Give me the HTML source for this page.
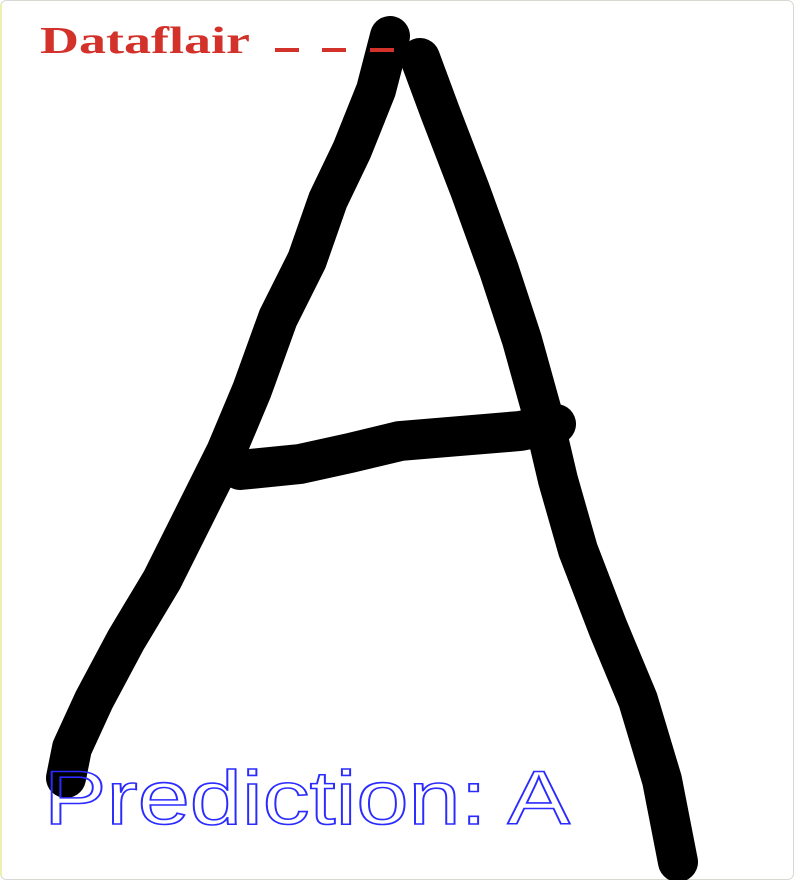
<!DOCTYPE html>
<html><head><meta charset="utf-8"><style>
html,body{margin:0;padding:0;background:#fff;}
svg{display:block;}
</style></head><body>
<svg width="794" height="880" viewBox="0 0 794 880">
<rect x="0.5" y="0.5" width="793" height="879" rx="6" fill="#fff" stroke="#d8d8d0"/>
<line x1="1" y1="4" x2="1" y2="876" stroke="#eef0b0" stroke-width="2"/>
<g fill="none" stroke="#000" stroke-width="40" stroke-linecap="round" stroke-linejoin="round">
<polyline points="390,36 376,90 352,150 328,200 307,260 278,318 252,390 226,452 196,512 162,580 126,640 94,700 72,748 66,778"/>
<polyline points="420,58 440,112 470,190 499,270 522,340 542,412 558,480 578,550 608,628 638,700 662,780 678,862"/>
<polyline points="240,470 300,464 350,453 400,441 460,436 520,431 556,424"/>
</g>
<text x="40" y="53" font-family="'Liberation Serif',serif" font-weight="bold" font-size="38" fill="#d2322a" textLength="210" lengthAdjust="spacingAndGlyphs">Dataflair</text>
<g stroke="#d2322a" stroke-width="4">
<line x1="275" y1="50" x2="299" y2="50"/>
<line x1="322" y1="50" x2="346" y2="50"/>
<line x1="370" y1="50" x2="394" y2="50"/>
</g>
<text x="44" y="824" font-family="'Liberation Sans',sans-serif" font-size="76" fill="none" stroke="#2b2bff" stroke-width="1.6" textLength="526" lengthAdjust="spacingAndGlyphs">Prediction: A</text>
</svg>
</body></html>
